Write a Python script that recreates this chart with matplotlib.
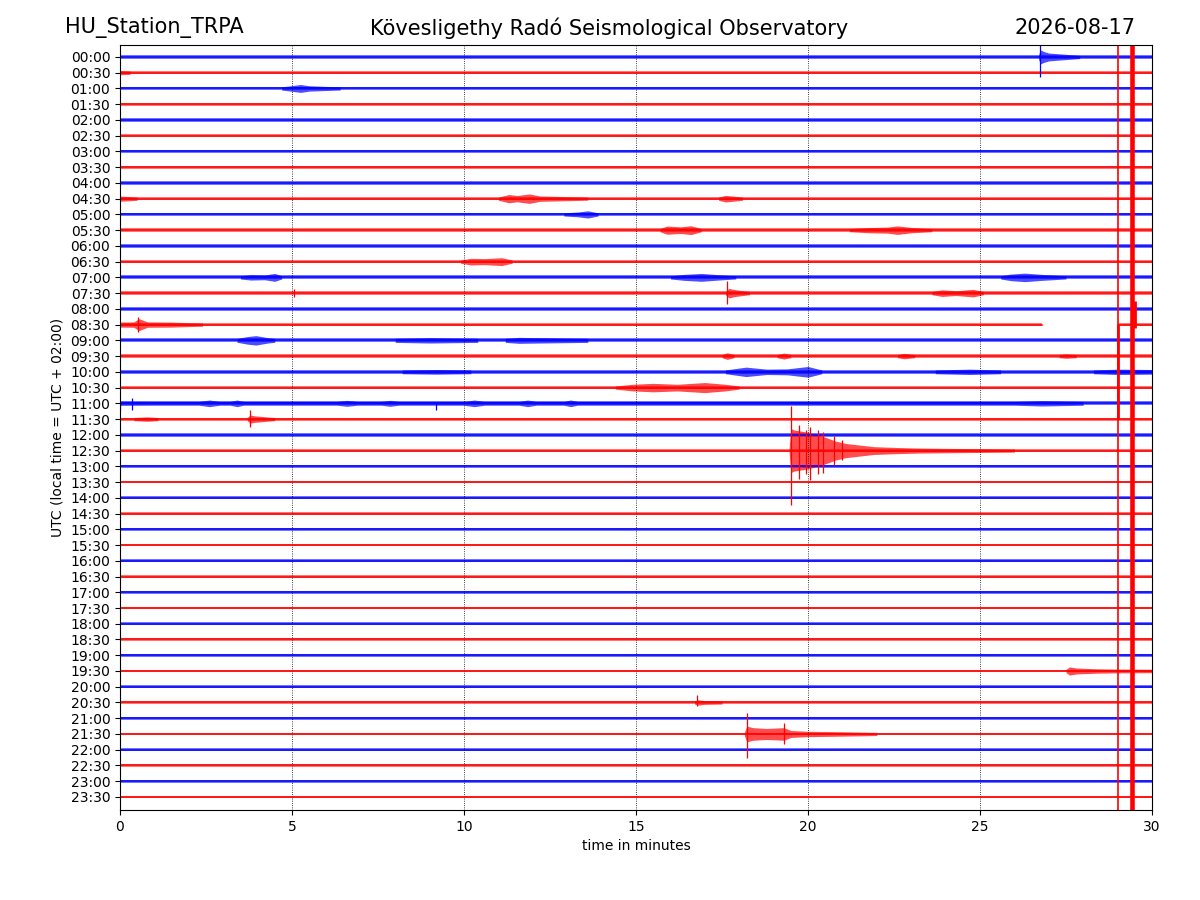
#helicorder day plot - HU_Station_TRPA
import matplotlib
matplotlib.use('Agg')
import matplotlib.pyplot as plt

# row labels (UTC start of each half-hour line)
row_labels = ['%02d:%02d' % (h, m) for h in range(24) for m in (0, 30)]
row_colors = ['blue', 'red'] * 24

# background noise half-width for each row (in row units)
row_noise = [0.12, 0.11, 0.12, 0.10, 0.11, 0.10, 0.11, 0.10,
             0.12, 0.11, 0.12, 0.11, 0.12, 0.11, 0.13, 0.11,
             0.12, 0.11, 0.13, 0.11, 0.13, 0.11, 0.13, 0.10,
             0.11, 0.10, 0.11, 0.09, 0.10, 0.09, 0.10, 0.09,
             0.10, 0.09, 0.10, 0.09, 0.10, 0.09, 0.10, 0.09,
             0.10, 0.09, 0.10, 0.09, 0.10, 0.09, 0.10, 0.09]

# data gap (row 08:30)
gap_rows = [17]
gap_start = [26.8]
gap_end = [29.0]

# event envelopes: row, times (min), half amplitude (rows)
ev_row = [0, 1, 2, 9, 9, 9, 10, 11, 11, 13, 14, 14, 14, 15, 15, 17, 18, 18, 18,
          19, 19, 19, 19, 20, 20, 20, 20, 21, 22, 23, 23, 25, 39, 41, 43]
ev_t = [
    [26.70, 26.75, 26.85, 27.0, 27.3, 27.6, 27.9],
    [0.0, 0.3],
    [4.7, 5.0, 5.25, 5.5, 6.0, 6.4],
    [0.0, 0.3, 0.5],
    [11.0, 11.3, 11.55, 11.9, 12.2, 13.0, 13.6],
    [17.4, 17.6, 17.8, 18.1],
    [12.9, 13.3, 13.6, 13.9],
    [15.7, 15.9, 16.3, 16.6, 16.9],
    [21.2, 21.8, 22.3, 22.6, 23.0, 23.6],
    [9.9, 10.2, 10.6, 11.1, 11.4],
    [3.5, 3.8, 4.2, 4.5, 4.7],
    [16.0, 16.4, 16.9, 17.4, 17.9],
    [25.6, 25.9, 26.3, 26.8, 27.5],
    [17.6, 17.7, 17.9, 18.3],
    [23.6, 23.9, 24.3, 24.8, 25.1],
    [0.0, 0.4, 0.55, 0.8, 1.5, 2.4],
    [3.4, 3.7, 3.95, 4.3, 4.5],
    [8.0, 9.0, 10.4],
    [11.2, 11.6, 12.2, 13.6],
    [17.5, 17.65, 17.85],
    [19.1, 19.3, 19.5],
    [22.6, 22.8, 23.1],
    [27.3, 27.5, 27.8],
    [8.2, 9.2, 10.2],
    [17.6, 18.2, 18.8, 19.4, 20.0, 20.4],
    [23.7, 24.7, 25.6],
    [28.3, 29.0, 30.0],
    [14.4, 14.9, 15.5, 16.2, 17.0, 17.6, 18.0],
    [0.0, 1.0, 2.3, 2.6, 2.9, 3.2, 3.4, 3.6, 6.3, 6.6, 6.9, 7.6, 7.85, 8.1,
     10.0, 10.3, 10.6, 11.6, 11.85, 12.1, 12.9, 13.1, 13.3, 26.0, 26.8, 28.0],
    [3.7, 3.78, 3.9, 4.3, 4.5],
    [0.4, 0.8, 1.1],
    [19.45, 19.5, 19.6, 19.9, 20.2, 20.5, 20.8, 21.1, 21.5, 21.9, 22.5,
     23.2, 24.0, 25.0, 26.0],
    [27.5, 27.6, 27.8, 28.4, 29.0, 30.0],
    [16.7, 16.8, 17.0, 17.5],
    [18.15, 18.22, 18.4, 18.8, 19.3, 19.5, 20.0, 20.7, 21.5, 22.0],
]
ev_amp = [
    [0.1, 0.45, 0.35, 0.25, 0.2, 0.15, 0.1],
    [0.13, 0.1],
    [0.1, 0.18, 0.25, 0.17, 0.13, 0.1],
    [0.16, 0.13, 0.1],
    [0.1, 0.26, 0.2, 0.3, 0.17, 0.13, 0.1],
    [0.1, 0.21, 0.17, 0.1],
    [0.1, 0.15, 0.23, 0.1],
    [0.1, 0.26, 0.21, 0.28, 0.1],
    [0.1, 0.17, 0.19, 0.27, 0.17, 0.1],
    [0.1, 0.21, 0.19, 0.25, 0.1],
    [0.1, 0.17, 0.15, 0.25, 0.1],
    [0.1, 0.19, 0.25, 0.17, 0.1],
    [0.1, 0.21, 0.27, 0.19, 0.1],
    [0.1, 0.3, 0.21, 0.1],
    [0.1, 0.21, 0.15, 0.24, 0.1],
    [0.16, 0.17, 0.38, 0.17, 0.16, 0.1],
    [0.12, 0.24, 0.3, 0.17, 0.12],
    [0.13, 0.17, 0.13],
    [0.13, 0.19, 0.17, 0.13],
    [0.1, 0.21, 0.1],
    [0.1, 0.19, 0.1],
    [0.1, 0.17, 0.1],
    [0.1, 0.14, 0.1],
    [0.12, 0.15, 0.12],
    [0.12, 0.3, 0.17, 0.19, 0.34, 0.12],
    [0.12, 0.17, 0.12],
    [0.12, 0.17, 0.15],
    [0.1, 0.21, 0.27, 0.21, 0.32, 0.21, 0.1],
    [0.13, 0.12, 0.12, 0.21, 0.12, 0.12, 0.21, 0.12, 0.12, 0.19, 0.12, 0.12,
     0.19, 0.12, 0.12, 0.21, 0.12, 0.12, 0.21, 0.12, 0.12, 0.21, 0.12, 0.12,
     0.17, 0.12],
    [0.1, 0.26, 0.21, 0.13, 0.1],
    [0.1, 0.14, 0.1],
    [0.1, 1.4, 1.3, 1.2, 1.05, 0.85, 0.6, 0.45, 0.35, 0.25, 0.2, 0.16, 0.14,
     0.12, 0.1],
    [0.1, 0.26, 0.19, 0.14, 0.12, 0.11],
    [0.1, 0.17, 0.12, 0.1],
    [0.1, 0.5, 0.4, 0.35, 0.4, 0.22, 0.17, 0.15, 0.12, 0.1],
]

# single sharp spikes: row, time, extent up, extent down (rows)
sp_row = [0, 15, 15, 17, 22, 22, 22, 23, 25, 25, 25, 25, 25, 25, 25, 25,
          41, 43, 43]
sp_t = [26.73, 17.64, 5.05, 0.53, 0.35, 0.0, 9.2, 3.78, 19.5, 19.75, 19.95,
        20.05, 20.3, 20.45, 20.75, 21.0, 16.77, 18.22, 19.3]
sp_up = [0.75, 0.8, 0.25, 0.5, 0.35, 0.1, 0.1, 0.55, 2.85, 1.6, 1.3, 1.5,
         1.3, 1.2, 0.9, 0.7, 0.45, 1.35, 0.7]
sp_down = [1.3, 0.7, 0.25, 0.5, 0.45, 0.4, 0.4, 0.5, 3.45, 1.8, 1.5, 1.9,
           1.5, 1.4, 0.9, 0.6, 0.25, 1.5, 0.65]

# clipped traces near the end of the hour: time, top row, bottom row, width
clip_t = [29.02, 29.42, 29.0, 29.5]
clip_top = [-0.8, -0.8, 17.0, 15.5]
clip_bottom = [47.9, 47.9, 23.0, 17.2]
clip_lw = [1.2, 3.3, 2.0, 2.0]

fig = plt.figure(figsize=(12, 9), dpi=100)
ax = fig.add_axes([0.1, 0.1, 0.86, 0.85])

for i in range(len(row_labels)):
    c = row_colors[i]
    n = row_noise[i]
    segs = [(0.0, 30.0)]
    if i in gap_rows:
        k = gap_rows.index(i)
        segs = [(0.0, gap_start[k]), (gap_end[k], 30.0)]
    for a, b in segs:
        ax.fill_between([a, b], [i - n, i - n], [i + n, i + n], color=c,
                        alpha=0.55, lw=0)
        ax.plot([a, b], [i, i], color=c, lw=1.1)

for r, ts, amps in zip(ev_row, ev_t, ev_amp):
    c = row_colors[r]
    lo = [r - a for a in amps]
    hi = [r + a for a in amps]
    ax.fill_between(ts, lo, hi, color=c, alpha=0.7, lw=0)

for r, t, up, dn in zip(sp_row, sp_t, sp_up, sp_down):
    ax.vlines(t, r - up, r + dn, color=row_colors[r], lw=0.9)

for t, top, bot, lw in zip(clip_t, clip_top, clip_bottom, clip_lw):
    ax.vlines(t, top, bot, color='red', lw=lw)

ax.set_xlim(0, 30)
ax.set_ylim(47.83, -0.76)
ax.set_xticks([0, 5, 10, 15, 20, 25, 30])
ax.set_yticks(range(len(row_labels)))
ax.set_yticklabels(row_labels)
ax.grid(axis='x', linestyle=':', color='black', lw=0.6)
ax.set_xlabel('time in minutes')
ax.set_ylabel('UTC (local time = UTC + 02:00)')

fig.text(65 / 1200, 1 - 28 / 900, 'HU_Station_TRPA', fontsize=15,
         ha='left', va='center')
fig.text(609 / 1200, 1 - 28 / 900, 'Kövesligethy Radó Seismological Observatory',
         fontsize=15, ha='center', va='center')
fig.text(1135 / 1200, 1 - 28 / 900, '2026-08-17', fontsize=15,
         ha='right', va='center')

fig.savefig('out.png', dpi=100)
